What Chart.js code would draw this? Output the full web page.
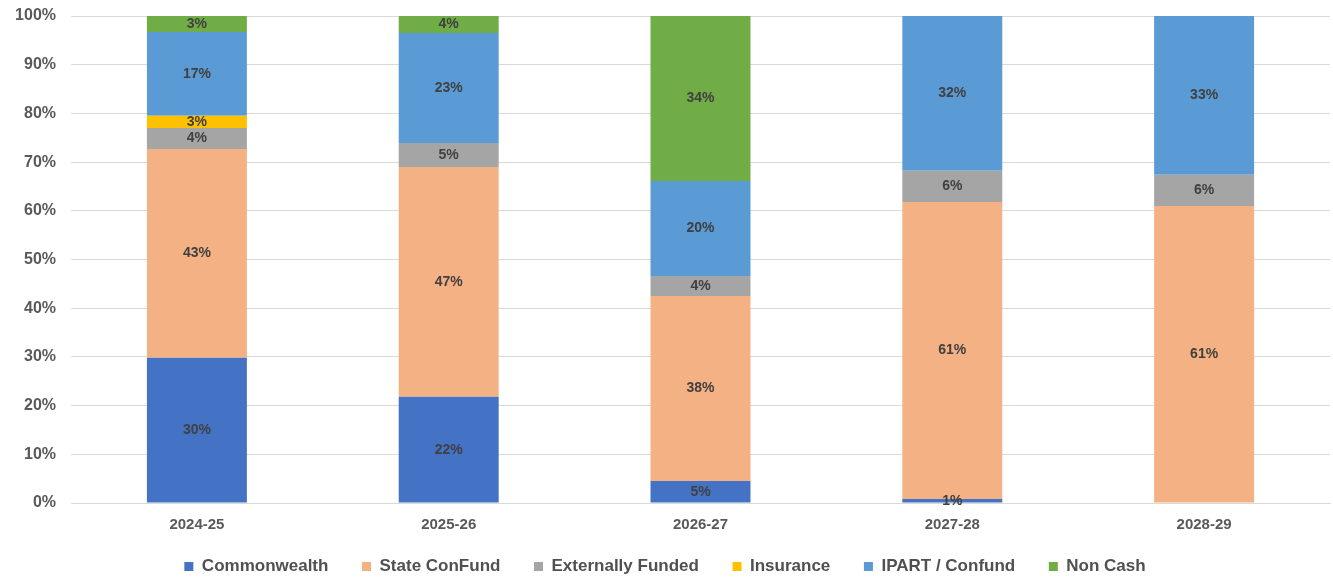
<!DOCTYPE html>
<html>
<head>
<meta charset="utf-8">
<script src="https://cdn.jsdelivr.net/npm/chart.js@4"></script>
<style>
  html, body { margin: 0; padding: 0; background: #fff; }
  #wrap { width: 1333px; height: 581px; }
</style>
</head>
<body>
<div id="wrap"><canvas id="byFunding"></canvas></div>
<script>
const years = ['2024-25', '2025-26', '2026-27', '2027-28', '2028-29']
const commonwealth = [29.8, 21.8, 4.5, 0.8, 0]
const stateConFund = [42.9, 47.2, 38.0, 61.0, 61.0]
const externallyFunded = [4.3, 4.9, 4.1, 6.4, 6.4]
const insurance = [2.5, 0, 0, 0, 0]
const ipartConfund = [17.2, 22.6, 19.5, 31.8, 32.6]
const nonCash = [3.3, 3.5, 33.9, 0, 0]

const labelFont = 'bold 14px "Liberation Sans", Arial, sans-serif'

const barLabels = {
  id: 'barLabels',
  afterDatasetsDraw(chart) {
    const ctx = chart.ctx
    ctx.save()
    ctx.font = labelFont
    ctx.fillStyle = '#404040'
    ctx.textAlign = 'center'
    ctx.textBaseline = 'middle'
    chart.data.datasets.forEach((ds, i) => {
      chart.getDatasetMeta(i).data.forEach((bar, j) => {
        const v = ds.data[j]
        if (!v) return
        const mid = (bar.y + bar.base) / 2
        ctx.fillText(Math.round(v) + '%', bar.x, mid)
      })
    })
    ctx.restore()
  }
}

// wider gaps between legend entries without making the legend taller
const legendLabels = chart => {
  const items = Chart.defaults.plugins.legend.labels.generateLabels(chart)
  items.forEach((it, i) => { if (i < items.length - 1) it.text += '     ' })
  return items
}

new Chart(document.getElementById('byFunding'), {
  type: 'bar',
  data: {
    labels: years,
    datasets: [
      {label: 'Commonwealth', data: commonwealth, backgroundColor: '#4472C4'},
      {label: 'State ConFund', data: stateConFund, backgroundColor: '#F4B183'},
      {label: 'Externally Funded', data: externallyFunded, backgroundColor: '#A5A5A5'},
      {label: 'Insurance', data: insurance, backgroundColor: '#FFC000'},
      {label: 'IPART / Confund', data: ipartConfund, backgroundColor: '#5B9BD5'},
      {label: 'Non Cash', data: nonCash, backgroundColor: '#70AD47'},
    ],
  },
  options: {
    responsive: true,
    maintainAspectRatio: false,
    animation: false,
    categoryPercentage: 1,
    barPercentage: 0.397,
    layout: {padding: {left: 0, right: 3, top: 16, bottom: -4}},
    plugins: {
      tooltip: {enabled: false},
      legend: {
        position: 'bottom',
        labels: {
          boxWidth: 9,
          boxHeight: 9,
          padding: 10,
          color: '#505050',
          font: {family: '"Liberation Sans", Arial', size: 17, weight: 'bold'},
          generateLabels: legendLabels,
        },
      },
    },
    scales: {
      x: {
        stacked: true,
        grid: {display: false},
        border: {color: '#d9d9d9'},
        ticks: {color: '#595959', font: {family: '"Liberation Sans", Arial', size: 15, weight: 'bold'}, padding: 5},
        afterFit(scale) { scale.height = 45 },
      },
      y: {
        stacked: true,
        min: 0,
        max: 100,
        grid: {color: '#d9d9d9', drawTicks: false},
        border: {display: false},
        ticks: {
          stepSize: 10,
          padding: 15,
          color: '#595959',
          font: {family: '"Liberation Sans", Arial', size: 16, weight: 'bold'},
          callback: v => v + '%',
        },
        afterFit(scale) {
          scale.width = 71
          scale.paddingTop = 0
          scale.paddingBottom = 0
        },
      },
    },
  },
  plugins: [barLabels],
})
</script>
</body>
</html>
